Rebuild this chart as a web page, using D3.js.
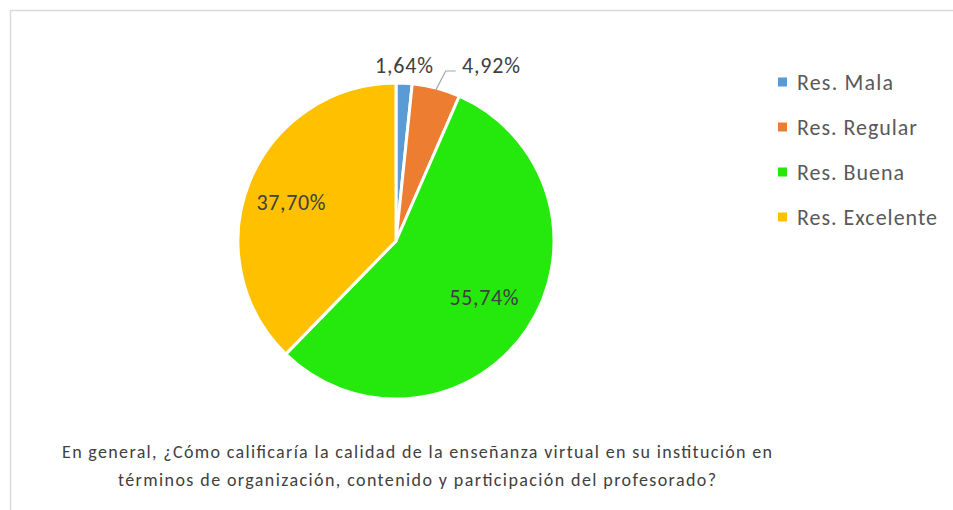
<!DOCTYPE html>
<html><head><meta charset="utf-8">
<script src="https://cdn.jsdelivr.net/npm/d3@7"></script>
<style>body{margin:0;background:#fff}svg{display:block}</style>
</head><body>
<svg id="c" width="953" height="510"></svg>
<script>
const categories = ["Res. Mala","Res. Regular","Res. Buena","Res. Excelente"];
const values = [1.64, 4.92, 55.74, 37.70];
const labels = ["1,64%","4,92%","55,74%","37,70%"];
const colors = ["#5b9bd5","#ed7d31","#25e80d","#ffc000"];
const titleLines = ["En general, ¿Cómo calificaría la calidad de la enseñanza virtual en su institución en","términos de organización, contenido y participación del profesorado?"];

const svg = d3.select("#c");
const font = "Carlito, Calibri, Lato, 'Open Sans', sans-serif";
svg.append("rect").attr("x",10.5).attr("y",10.5).attr("width",1000).attr("height",1000)
  .attr("fill","#fff").attr("stroke","#d9d9d9").attr("stroke-width",1.5);

const cx = 396, cy = 241, r = 158;
const g = svg.append("g").attr("transform",`translate(${cx},${cy})`);
const pie = d3.pie().sort(null).value(d=>d)(values);
const arc = d3.arc().innerRadius(0).outerRadius(r);
g.selectAll("path").data(pie).join("path").attr("d",arc)
  .attr("fill",(d,i)=>colors[i]).attr("stroke","#fff").attr("stroke-width",3).attr("stroke-linejoin","round");

// labels
const labelPos = [[404,65],[491,65],[484,297],[291,202]];
const lab = svg.append("g").attr("font-family",font).attr("font-size",22).attr("fill","#404040").attr("text-anchor","middle");
labels.forEach((t,i)=>{
  lab.append("text").attr("x",labelPos[i][0]).attr("y",labelPos[i][1]).attr("dy","0.35em")
    .attr("textLength", t.length===5 ? 58 : 69).attr("lengthAdjust","spacing").text(t);
});
// leader line for Regular
const midA = (pie[1].startAngle+pie[1].endAngle)/2;
const p0 = [cx + Math.sin(midA)*(r-2), cy - Math.cos(midA)*(r-2)];
svg.append("polyline").attr("points",`${p0[0]},${p0[1]} ${p0[0]+10},71 ${p0[0]+20},71`)
  .attr("fill","none").attr("stroke","#a6a6a6").attr("stroke-width",1.2);

// legend
const legW = [96, 120, 107, 140];
const leg = svg.append("g").attr("font-family",font).attr("font-size",22).attr("fill","#595959");
categories.forEach((c,i)=>{
  const y = 82 + i*45;
  leg.append("rect").attr("x",778).attr("y",y-4.5).attr("width",9).attr("height",9).attr("fill",colors[i]);
  leg.append("text").attr("x",797).attr("y",y).attr("dy","0.35em")
    .attr("textLength",legW[i]).attr("lengthAdjust","spacing").text(c);
});

// title
const tW = [710, 598];
const tt = svg.append("g").attr("font-family",font).attr("font-size",18).attr("fill","#404040").attr("text-anchor","middle");
titleLines.forEach((t,i)=>{
  tt.append("text").attr("x",417).attr("y",458+i*28)
    .attr("textLength",tW[i]).attr("lengthAdjust","spacing").text(t);
});
</script>
</body></html>
